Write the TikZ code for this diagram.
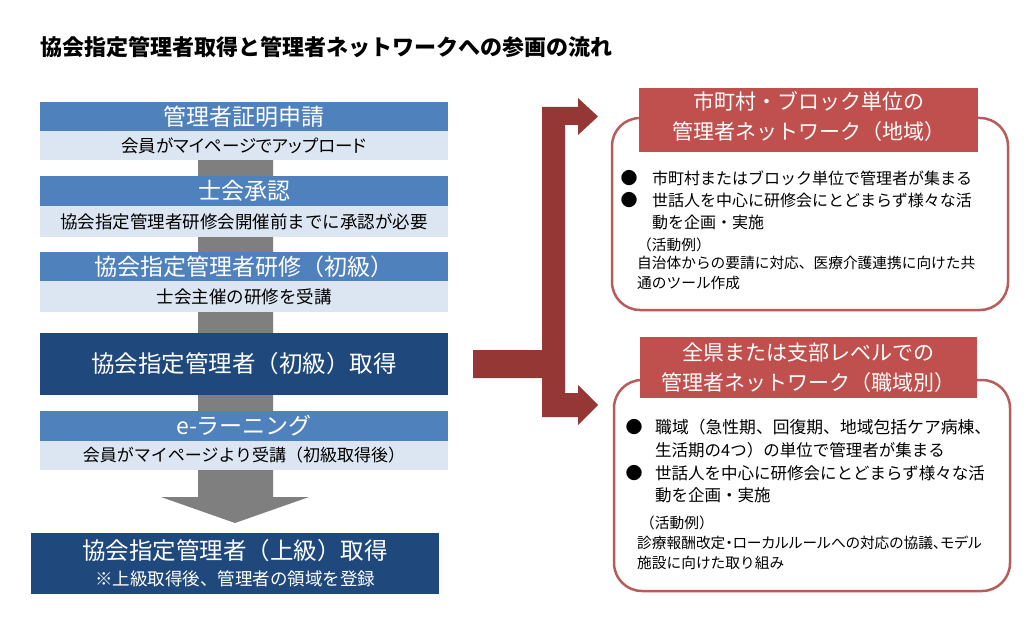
\documentclass[tikz,border=0pt]{standalone}
\usepackage{fontspec}
\newfontfamily\jp{Noto Sans CJK JP}
\newfontfamily\jpp{Noto Sans CJK JP}[RawFeature=+palt]
\usetikzlibrary{backgrounds}
\definecolor{hblue}{HTML}{4F81BD}
\definecolor{lblue}{HTML}{DCE6F2}
\definecolor{navy}{HTML}{1F497D}
\definecolor{grayc}{HTML}{7F7F7F}
\definecolor{redarrow}{HTML}{953735}
\definecolor{redhd}{HTML}{C0504D}
\definecolor{redbd}{HTML}{B65C5A}
\newcommand{\fs}[1]{\fontsize{#1}{#1}\selectfont}
\newcommand{\fsb}[2]{\fontsize{#1}{#2}\selectfont}
\begin{document}
\begin{tikzpicture}[x=1pt,y=-1pt,
  band/.style={rectangle, inner sep=0pt, minimum width=408pt},
  hd/.style={band, fill=hblue, text=white, font=\jp\fs{23}},
  sub/.style={band, fill=lblue, text=black, font=\jp\fs{17.5}},
  big/.style={band, fill=navy, text=white, font=\jp\fs{23.5}},
  netbox/.style={rectangle, rounded corners=28pt, draw=redbd, line width=2.5pt, fill=white, minimum width=396pt},
  nethd/.style={rectangle, fill=redhd, inner sep=0pt},
  nettx/.style={text=white, inner sep=0pt, align=center, font=\jp\fsb{21}{30}},
  bul/.style={inner sep=0pt, font=\jp\fs{17}},
  ln/.style={anchor=west, inner sep=0pt, text=black},
]
\useasboundingbox (0,0) rectangle (1032,628);

% title
\node[anchor=west, inner sep=0pt, font=\jp\bfseries\fs{22}] (title) at (40,47) {協会指定管理者取得と管理者ネットワークへの参画の流れ};

% left flow
\node[hd, minimum height=29pt] (h1) at (244,116.5) {管理者証明申請};
\node[sub, minimum height=29pt, font=\jpp\fs{17.5}] (s1) at (244,145.5) {会員がマイページでアップロード};
\node[hd, minimum height=30pt] (h2) at (244,191) {士会承認};
\node[sub, minimum height=31pt] (s2) at (244,221.5) {協会指定管理者研修会開催前までに承認が必要};
\node[hd, minimum height=29pt] (h3) at (244,266.5) {協会指定管理者研修（初級）};
\node[sub, minimum height=31pt] (s3) at (244,296.5) {士会主催の研修を受講};
\node[big, minimum height=62pt] (b4) at (244,364) {協会指定管理者（初級）取得};
\node[hd, minimum height=30pt] (h5) at (244,426) {e-ラーニング};
\node[sub, minimum height=29pt, font=\jp\fs{17}] (s5) at (244,455.5) {会員がマイページより受講（初級取得後）};
\node[big, minimum height=61pt, align=center, font=\jp\fsb{23.5}{26}] (b6) at (235,563.5) {協会指定管理者（上級）取得\\{\fs{17.5}※上級取得後、管理者の領域を登録}};

% gray connector arrow (behind the bands)
\begin{scope}[on background layer]
\fill[white] (0,0) rectangle (1032,628);
\coordinate (gl) at (198,0);
\coordinate (gr) at (273,0);
\coordinate (hl) at (161,497);
\coordinate (hr) at (309,497);
\coordinate (tip) at (235,523);
\fill[grayc] (gl |- s1.south) -- (gr |- s1.south) -- (gr |- hr) -- (hr) -- (tip) -- (hl) -- (gl |- hl) -- cycle;
\end{scope}

% right boxes
\node[netbox, minimum height=192pt] (A) at (810,214) {};
\node[nethd, minimum width=339pt, minimum height=64pt] (Ah) at (808.5,120) {};
\node[nettx] (Aht) at ([yshift=3]Ah.center) {市町村・ブロック単位の\\管理者ネットワーク（地域）};
\node[netbox, minimum height=211pt] (B) at (812,485.5) {};
\node[nethd, minimum width=337pt, minimum height=61pt] (Bh) at (808.5,367.5) {};
\node[nettx] (Bht) at (Bh.center) {全県または支部レベルでの\\管理者ネットワーク（職域別）};

% red bracket arrow
\coordinate (sa) at (473,350);
\fill[redarrow] (sa) -- (542,350) -- (542,107) -- (578,107) -- (578,98) -- (598,116.5) -- (578,135) -- (578,125) -- (565,125)
  -- (565,393) -- (578,393) -- (578,385) -- (598,405) -- (578,425) -- (578,417) -- (542,417) -- (542,378) -- (473,378) -- cycle;

% box A text
\node[bul] (Ab1) at (629,178) {●};
\node[bul] (Ab2) at (629,200) {●};
\node[ln, font=\jp\fs{16}] (At1) at (652,178) {市町村またはブロック単位で管理者が集まる};
\node[ln, font=\jp\fs{16}] (At2) at (652,200) {世話人を中心に研修会にとどまらず様々な活};
\node[ln, font=\jp\fs{16}] (At3) at (652,222) {動を企画・実施};
\node[ln, font=\jp\fs{14.7}] (Ae0) at (637,245) {（活動例）};
\node[ln, font=\jp\fs{14.7}] (Ae1) at (637,263) {自治体からの要請に対応、医療介護連携に向けた共};
\node[ln, font=\jp\fs{14.7}] (Ae2) at (637,283) {通のツール作成};

% box B text
\node[bul] (Bb1) at (634,427) {●};
\node[bul] (Bb2) at (634,473) {●};
\node[ln, font=\jp\fs{16.8}] (Bt1) at (655,427) {職域（急性期、回復期、地域包括ケア病棟、};
\node[ln, font=\jp\fs{16.5}] (Bt2) at (655,450) {生活期の4つ）の単位で管理者が集まる};
\node[ln, font=\jp\fs{16.5}] (Bt3) at (655,473) {世話人を中心に研修会にとどまらず様々な活};
\node[ln, font=\jp\fs{16.5}] (Bt4) at (655,495) {動を企画・実施};
\node[ln, font=\jp\fs{14.7}] (Be0) at (640,523) {（活動例）};
\node[ln, font=\jpp\fs{14.7}] (Be1) at (637,543) {診療報酬改定・ローカルルールへの対応の協議、モデル};
\node[ln, font=\jp\fs{14.7}] (Be2) at (637,563) {施設に向けた取り組み};
\end{tikzpicture}
\end{document}
